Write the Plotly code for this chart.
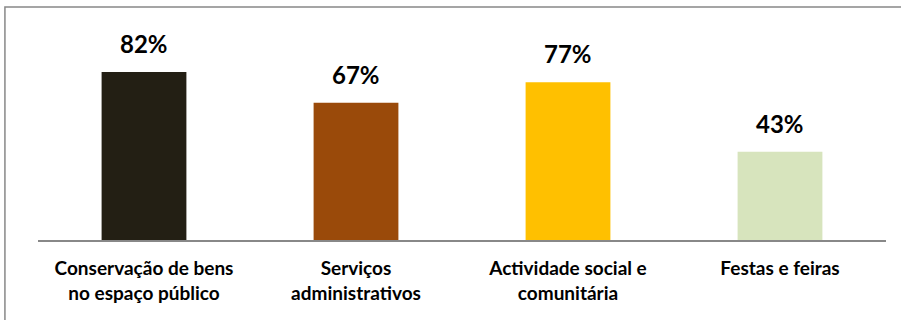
import plotly.graph_objects as go

categories = ["Conservação de bens<br>no espaço público", "Serviços<br>administrativos",
              "Actividade social e<br>comunitária", "Festas e feiras"]
values = [0.82, 0.67, 0.77, 0.43]
labels = ["82%", "67%", "77%", "43%"]
colors = ["#231f14", "#9a4a0a", "#ffc000", "#d7e4bd"]

FONT = "Lato"

fig = go.Figure()
fig.add_trace(go.Bar(x=categories, y=values, marker_color=colors, width=0.4,
                     marker_line_width=0, hoverinfo="skip"))
for c, v, t in zip(categories, values, labels):
    fig.add_annotation(x=c, y=v, text="<b>" + t + "</b>", showarrow=False, yanchor="bottom", yshift=12,
                       font=dict(family=FONT, size=24, color="#000000"))

fig.add_shape(type="rect", xref="paper", yref="paper", x0=-0.039, x1=1.2, y0=-1.0, y1=1.137,
              line=dict(color="#888888", width=1.5), fillcolor="rgba(0,0,0,0)", layer="below")

fig.update_layout(
    width=901, height=320,
    margin=dict(l=38, r=15, t=35, b=80),
    paper_bgcolor="white", plot_bgcolor="white",
    showlegend=False,
    bargap=0.6,
    xaxis=dict(showline=True, linecolor="#888888", linewidth=2, ticks="",
               tickmode="array", tickvals=categories,
               ticktext=["<b>" + c + "</b>" for c in categories],
               ticklabelstandoff=10,
               tickfont=dict(family=FONT, size=19, color="#000000"),
               showgrid=False),
    yaxis=dict(range=[0, 1], visible=False, showgrid=False, zeroline=False),
)

fig.write_html("out.html")
